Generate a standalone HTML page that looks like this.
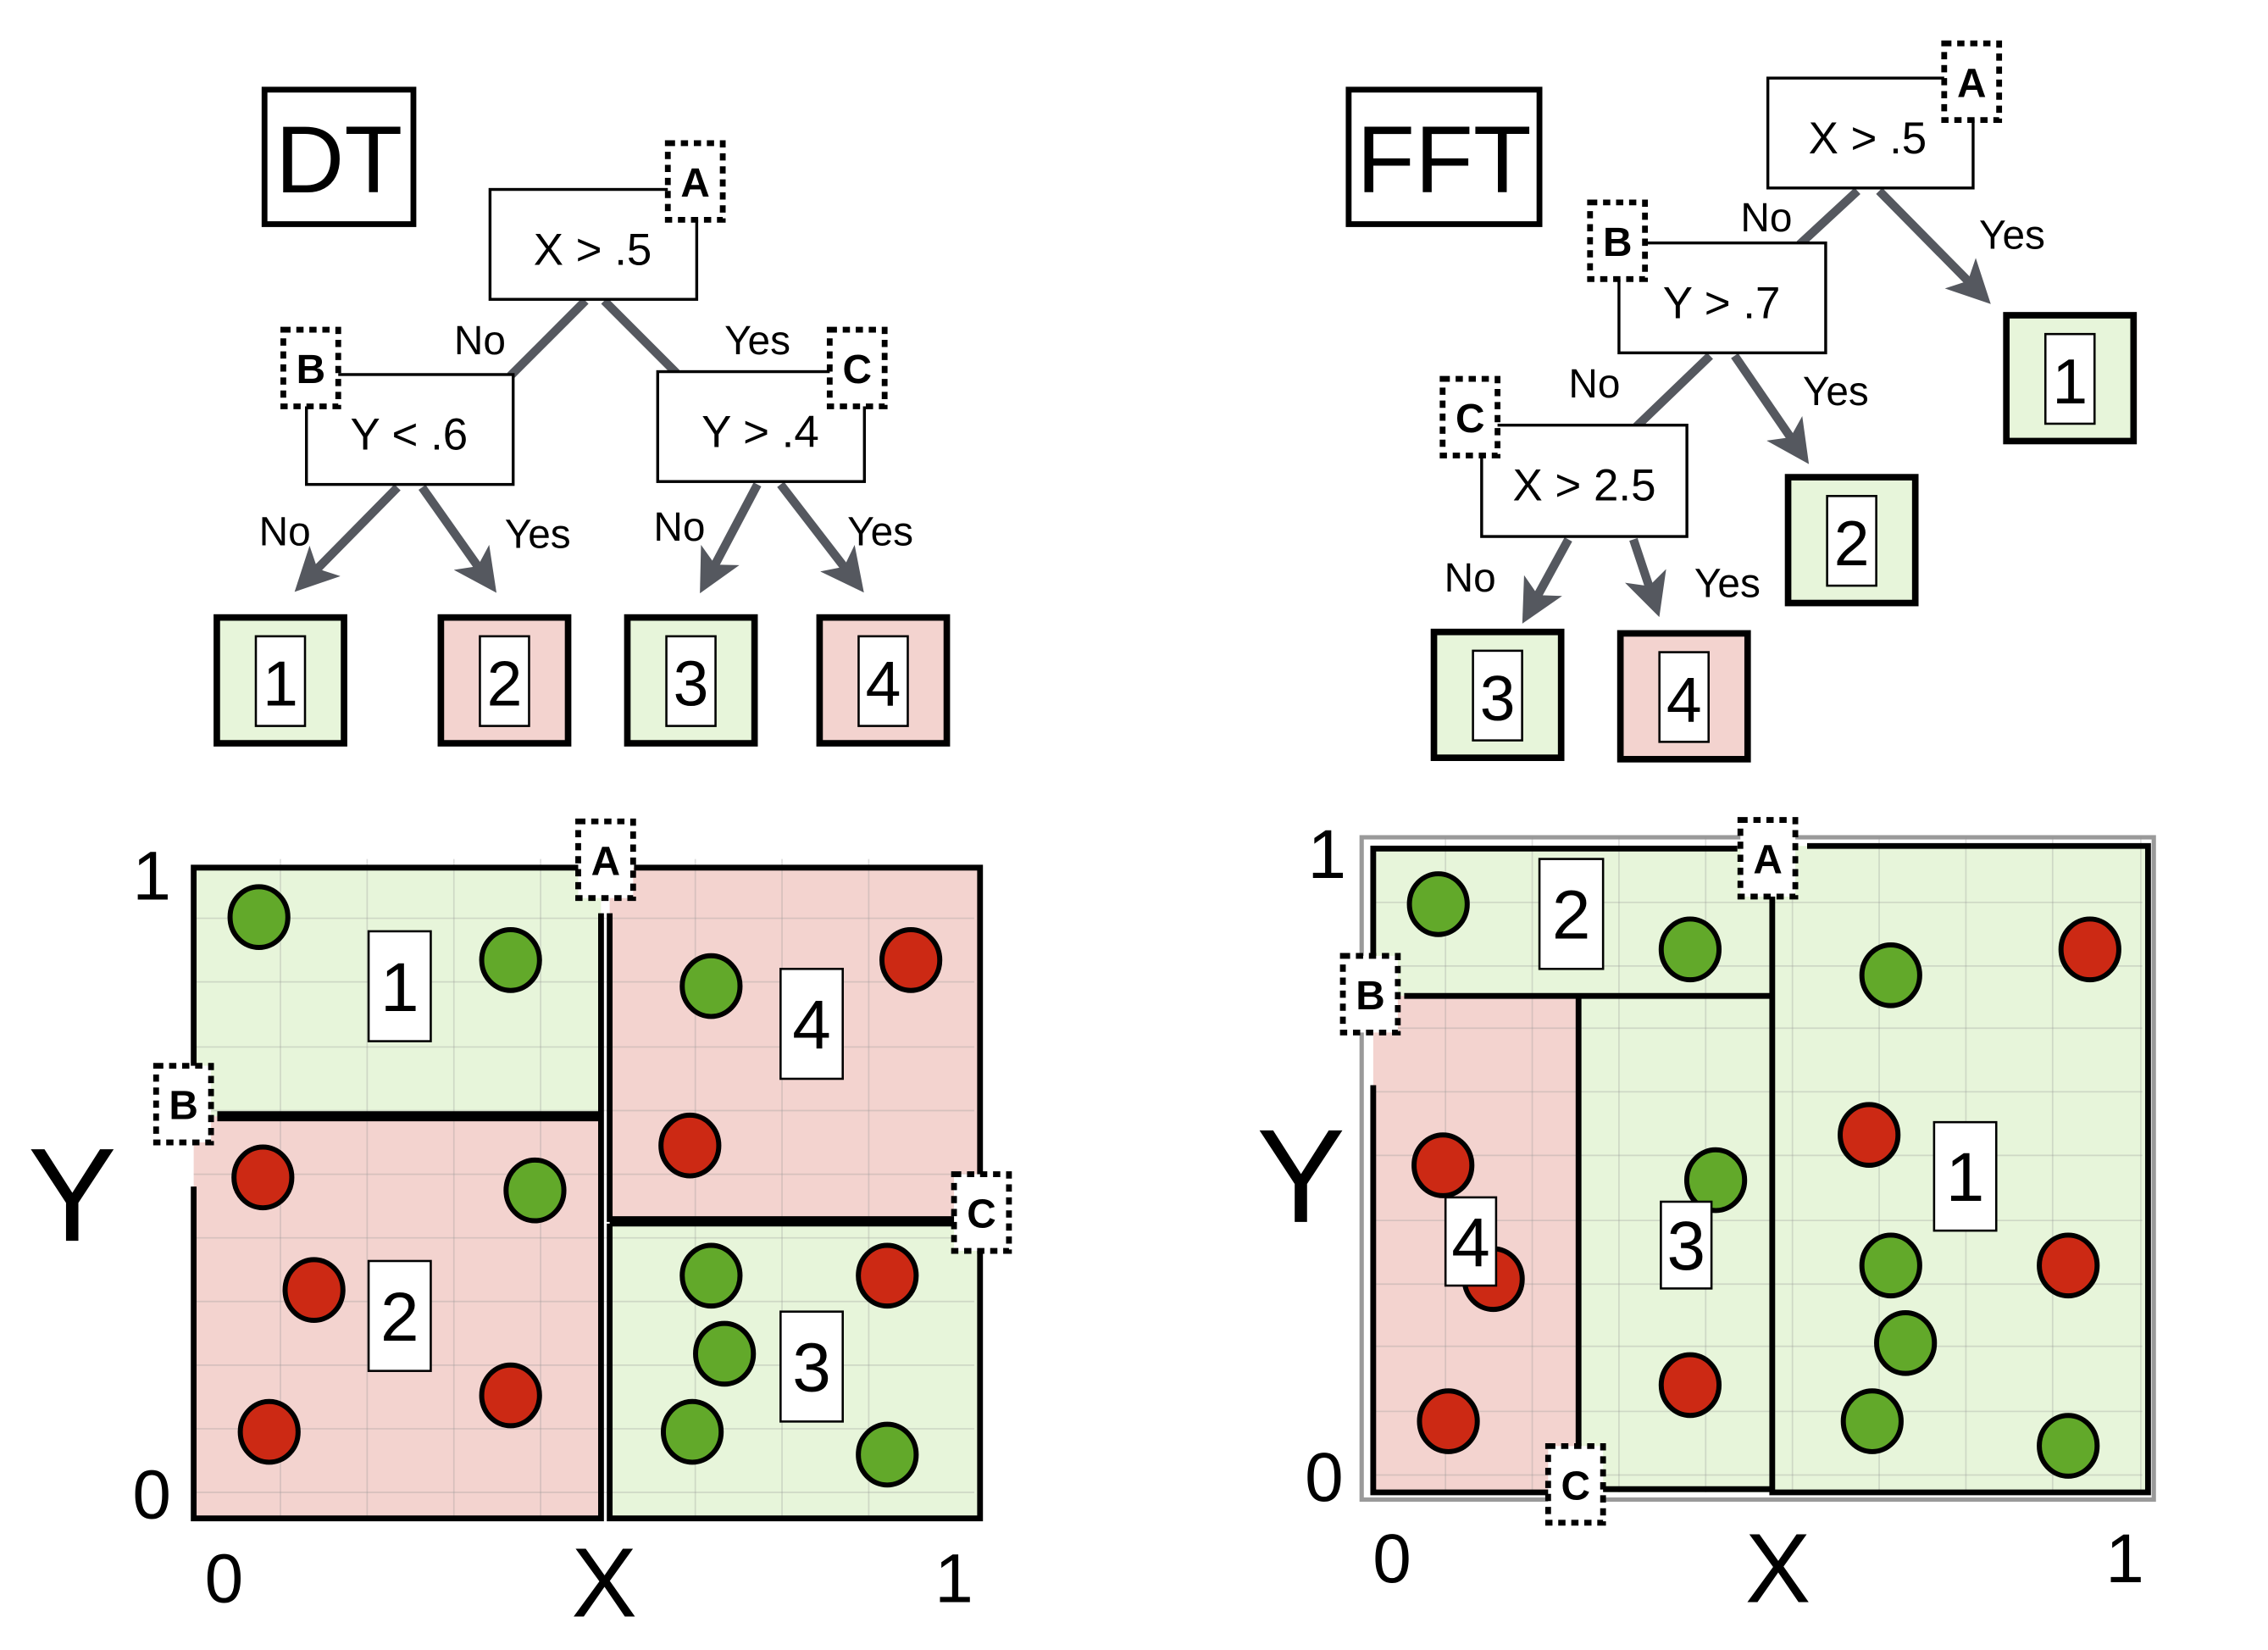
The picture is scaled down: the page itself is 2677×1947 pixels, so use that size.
<!DOCTYPE html>
<html><head><meta charset="utf-8"><style>
html,body{margin:0;padding:0;background:#fff;}
svg{display:block;}
text{font-family:"Liberation Sans",sans-serif;}
</style></head><body>
<svg id="fig" width="2677" height="1947" viewBox="0 0 1569 1141" preserveAspectRatio="none">
<defs>
<marker id="ah" viewBox="0 0 10 10" refX="8" refY="5" markerWidth="5" markerHeight="5" orient="auto" markerUnits="strokeWidth">
<path d="M0,0 L10,5 L0,10 L2.5,5 z" fill="#55585f"/></marker>
</defs>

<!-- DT tree -->
<g>
<rect x="183" y="62" width="103" height="93" fill="#fff" stroke="#000" stroke-width="4"/>
<text x="234.5" y="133" font-size="66" text-anchor="middle">DT</text>
<g stroke="#55585f" stroke-width="6" fill="none">
<line x1="405" y1="208" x2="353" y2="260"/>
<line x1="418" y1="208" x2="468" y2="258"/>
<line x1="275" y1="337" x2="208" y2="405" marker-end="url(#ah)"/>
<line x1="292" y1="337" x2="340" y2="405" marker-end="url(#ah)"/>
<line x1="524" y1="335" x2="487" y2="405" marker-end="url(#ah)"/>
<line x1="540" y1="335" x2="594" y2="405" marker-end="url(#ah)"/>
</g>
<g font-size="28" text-anchor="middle">
<text x="332" y="245">No</text>
<text x="524" y="245">Yes</text>
<text x="197" y="377">No</text>
<text x="372" y="379">Yes</text>
<text x="470" y="374">No</text>
<text x="609" y="377">Yes</text>
</g>
<rect x="339" y="131" width="143" height="76" fill="#fff" stroke="#000" stroke-width="2"/>
<text x="410" y="183" font-size="31" text-anchor="middle">X &gt; .5</text>
<rect x="212" y="259" width="143" height="76" fill="#fff" stroke="#000" stroke-width="2"/>
<text x="283" y="311" font-size="31" text-anchor="middle">Y &lt; .6</text>
<rect x="455" y="257" width="143" height="76" fill="#fff" stroke="#000" stroke-width="2"/>
<text x="526" y="309" font-size="31" text-anchor="middle">Y &gt; .4</text>
</g>

<!-- FFT tree -->
<g>
<rect x="933" y="62" width="132" height="93" fill="#fff" stroke="#000" stroke-width="4"/>
<text x="999" y="133" font-size="66" text-anchor="middle">FFT</text>
<g stroke="#55585f" stroke-width="6" fill="none">
<line x1="1285" y1="132" x2="1245" y2="169"/>
<line x1="1300" y1="132" x2="1373" y2="206" marker-end="url(#ah)"/>
<line x1="1183" y1="246" x2="1132" y2="295"/>
<line x1="1200" y1="246" x2="1248" y2="316" marker-end="url(#ah)"/>
<line x1="1085" y1="373" x2="1056" y2="426" marker-end="url(#ah)"/>
<line x1="1130" y1="373" x2="1146" y2="421" marker-end="url(#ah)"/>
</g>
<g font-size="28" text-anchor="middle">
<text x="1222" y="160">No</text>
<text x="1392" y="172">Yes</text>
<text x="1103" y="275">No</text>
<text x="1270" y="280">Yes</text>
<text x="1017" y="409">No</text>
<text x="1195" y="413">Yes</text>
</g>
<rect x="1223" y="54" width="142" height="76" fill="#fff" stroke="#000" stroke-width="2"/>
<text x="1292" y="106" font-size="31" text-anchor="middle">X &gt; .5</text>
<rect x="1120" y="168" width="143" height="76" fill="#fff" stroke="#000" stroke-width="2"/>
<text x="1191" y="220" font-size="31" text-anchor="middle">Y &gt; .7</text>
<rect x="1025" y="294" width="142" height="77" fill="#fff" stroke="#000" stroke-width="2"/>
<text x="1096" y="346" font-size="31" text-anchor="middle">X &gt; 2.5</text>
</g>

<g id="leaves"></g>
<g id="plots"></g>
<g id="tags"></g>
</svg>
<script>
// leaf data
const leafX = [150,305,434,567,1388,1237,992,1121];
const leafY = [427,427,427,427,218,330,437,438];
const leafLabel = ['1','2','3','4','1','2','3','4'];
const leafClass = ['g','r','g','r','g','g','g','r'];

// DT points (data units 0-1)
const dtPtX = [.083,.403,.658,.912,.631,.088,.434,.153,.658,.882,.675,.403,.096,.634,.882];
const dtPtY = [.924,.858,.818,.858,.573,.524,.504,.351,.373,.373,.253,.189,.133,.133,.098];
const dtPtC = ['g','g','g','r','r','r','g','r','g','r','g','r','r','g','g'];
// FFT points
const fftPtX = [.084,.409,.668,.925,.640,.090,.442,.155,.668,.897,.687,.409,.097,.644,.897];
const fftPtY = [.910,.840,.800,.840,.553,.506,.483,.330,.351,.351,.231,.166,.110,.110,.072];
const fftPtC = ['g','g','g','r','r','r','g','r','g','r','g','r','r','g','g'];

const FILL = {g:'#e7f5da', r:'#f3d3cf'};
const PT = {g:'#62a92a', r:'#cc2914'};
const NS = 'http://www.w3.org/2000/svg';
function mk(tag, attrs, parent){const e=document.createElementNS(NS,tag);for(const k in attrs)e.setAttribute(k,attrs[k]);parent.appendChild(e);return e;}

const leaves = document.getElementById('leaves');
for(let i=0;i<leafX.length;i++){
  const g = mk('g',{},leaves);
  
  
  mk('rect',{x:leafX[i],y:leafY[i],width:88,height:87,fill:FILL[leafClass[i]],stroke:'#000','stroke-width':4.5},g);
  mk('rect',{x:leafX[i]+27,y:leafY[i]+13,width:34,height:62,fill:'#fff',stroke:'#000','stroke-width':1.5},g);
  const t = mk('text',{x:leafX[i]+44,y:leafY[i]+61,'font-size':44,'text-anchor':'middle'},g);
  t.textContent = leafLabel[i];
}

const plots = document.getElementById('plots');
function plot(name, L, R, T, B, regions, splits, labels, px, py, pc, gridX, gridY, gray){
  const g = mk('g',{},plots);
  
  
  const sx = v => L + v*(R-L), sy = v => B - v*(B-T);
  if(gray) mk('rect',{x:L-8,y:T-6,width:R-L+12,height:B-T+11,fill:'none',stroke:'#9a9a9a','stroke-width':3},g);
  regions.forEach(r=>{ const e=mk('rect',{x:sx(r[0]),y:sy(r[3]),width:sx(r[2])-sx(r[0]),height:sy(r[1])-sy(r[3]),fill:FILL[r[4]]},g);
     });
  gridX.forEach(x=>mk('line',{x1:x,x2:x,y1:T-6,y2:B,stroke:'rgba(150,150,150,0.3)','stroke-width':1},g));
  gridY.forEach(y=>mk('line',{x1:L,x2:R-4,y1:y,y2:y,stroke:'rgba(150,150,150,0.3)','stroke-width':1},g));
  splits.forEach(s=>mk('polyline',{points:s.map(p=>sx(p[0])+','+sy(p[1])).join(' '),fill:'none',stroke:'#000','stroke-width':s.w||4},g));
  for(let i=0;i<px.length;i++){
    const c = mk('ellipse',{cx:sx(px[i]),cy:sy(py[i]),rx:20,ry:21,fill:PT[pc[i]],stroke:'#000','stroke-width':3.5},g);
    
    
  }
  labels.forEach(l=>{ mk('rect',{x:l[0],y:l[1],width:l[2],height:l[3],fill:'#fff',stroke:'#000','stroke-width':1.5},g);
    const t=mk('text',{x:l[0]+l[2]/2,y:l[1]+l[3]/2+17,'font-size':48,'text-anchor':'middle'},g); t.textContent=l[4];
     });
}
plot('dt-plot',134,678,600,1050,
  [[0,.618,.518,1,'g'],[0,0,.518,.618,'r'],[.529,.46,1,1,'r'],[.529,0,1,.453,'g']],
  [[[0,.618],[0,1],[.5,1]],[[.56,1],[1,1],[1,.48]],[[1,.42],[1,0],[.529,0],[.529,.453]],[[.518,.93],[.518,0],[0,0],[0,.51]],
   Object.assign([[.03,.618],[.518,.618]],{w:7}),[[.529,.93],[.529,.46],[.97,.46]],[[.529,.453],[.97,.453]]],
  [[255,644,43,76,'1'],[255,872,43,76,'2'],[540,670,43,76,'4'],[540,907,43,76,'3']],
  dtPtX,dtPtY,dtPtC,[194,254,314,374,481,541,601],[635,679,724,768,812,856,900,944,988,1032],false);
plot('fft-plot',950,1486,585,1032,
  [[0,.768,.515,.996,'g'],[0,0,.265,.768,'r'],[.265,0,.515,.768,'g'],[.515,0,1,1,'g']],
  [[[0,.73],[0,.996],[.47,.996]],[[.56,1],[1,1],[1,0],[.515,0],[.515,1]],[[0,.63],[0,0],[.24,0]],[[.29,.005],[.515,.005]],
   [[.04,.768],[.515,.768]],[[.265,.768],[.265,.06]]],
  [[1065,594,44,76,'2'],[1000,828,35,61,'4'],[1149,831,35,60,'3'],[1338,776,43,75,'1']],
  fftPtX,fftPtY,fftPtC,[1000,1060,1120,1180,1240,1300,1360,1420,1481],[624,668,711,755,799,844,888,931,976,1020],true);

const tags = document.getElementById('tags');
const axisTxt = [[105,622,'1',48],[105,1050,'0',48],[155,1108,'0',48],[418,1118,'X',68],[660,1108,'1',48],[50,858,'Y',92],
                 [918,607,'1',48],[916,1038,'0',48],[963,1094,'0',48],[1230,1108,'X',68],[1470,1094,'1',48],[900,845,'Y',92]];
axisTxt.forEach(a=>{const t=mk('text',{x:a[0],y:a[1],'font-size':a[3],'text-anchor':'middle'},tags);t.textContent=a[2];
   });
const tagX=[462,196,574,400,108,660,1345,1100,998,1204,929,1071];
const tagY=[99,228,228,568,737,812,30,140,262,567,661,1000];
const tagL=['A','B','C','A','B','C','A','B','C','A','B','C'];
for(let i=0;i<tagX.length;i++){
  const r=mk('rect',{x:tagX[i],y:tagY[i],width:38,height:53,fill:'#fff',stroke:'#000','stroke-width':4,'stroke-dasharray':'5 4'},tags);
  
  
  const t=mk('text',{x:tagX[i]+19,y:tagY[i]+37,'font-size':28,'font-weight':'bold','text-anchor':'middle'},tags);
  t.textContent=tagL[i];
}
</script>
</body></html>
